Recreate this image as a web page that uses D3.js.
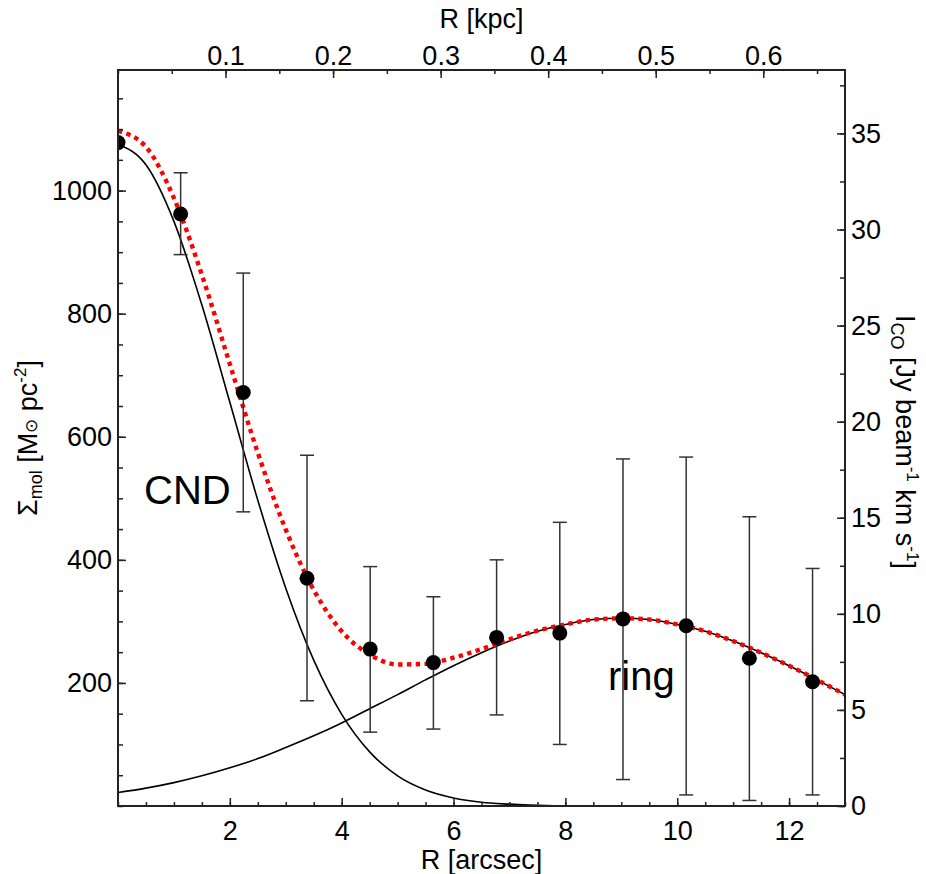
<!DOCTYPE html>
<html>
<head>
<meta charset="utf-8">
<script src="https://cdn.jsdelivr.net/npm/d3@7"></script>
<style>
  body { margin: 0; background: #fff; }
  text { font-family: "Liberation Sans", Arial, Helvetica, sans-serif; fill: #000; }
</style>
</head>
<body>
<svg id="chart" width="926" height="874"></svg>
<script>
// measured radial profile (R in arcsec, surface density in Msun/pc^2)
const radii  = [0, 1.12, 2.24, 3.38, 4.51, 5.64, 6.77, 7.90, 9.03, 10.16, 11.29, 12.42];
const sigma  = [1078, 962, 672, 370, 255, 233, 274, 281, 304, 293, 240, 202];
const errHi  = [null, 1029, 866, 570, 389, 340, 400, 461, 564, 567, 470, 386];
const errLo  = [null, 896, 478, 171, 120, 125, 148, 100, 43, 18, 9, 18];

// fitted components
const fitR     = [0, 0.5, 1, 1.5, 2, 2.5, 3, 3.5, 4, 4.5, 5, 5.5, 6, 6.5, 7, 7.5, 8, 8.5, 9, 9.5, 10, 10.5, 11, 11.5, 12, 12.5, 13];
const cndFit   = [1075, 1042, 950, 814, 656, 497, 354, 237, 149, 88, 49, 26, 13, 6, 3, 1, 0, 0, 0, 0, 0, 0, 0, 0, 0, 0, 0];
const ringFit  = [22, 29, 38, 49, 62, 77, 95, 114, 135, 158, 181, 205, 228, 249, 268, 284, 295, 303, 305, 303, 295, 284, 268, 249, 228, 205, 181];
const totalFit = [1097, 1071, 988, 863, 718, 574, 449, 351, 284, 246, 230, 231, 241, 255, 271, 285, 295, 303, 305, 303, 295, 284, 268, 249, 228, 205, 181];

// tick labels
const bottomTicks = [2, 4, 6, 8, 10, 12];
const topTicks    = [0.1, 0.2, 0.3, 0.4, 0.5, 0.6];
const leftTicks   = [200, 400, 600, 800, 1000];
const rightTicks  = [0, 5, 10, 15, 20, 25, 30, 35];

const kpcPerArcsec = 0.052;

const svg = d3.select("#chart");
const L = 118, R = 845, T = 70, B = 806;

const x    = d3.scaleLinear().domain([0, 13]).range([L, R]);
const xTop = d3.scaleLinear().domain([0, 13 * kpcPerArcsec]).range([L, R]);
const y    = d3.scaleLinear().domain([0, 1196]).range([B, T]);
const yR   = d3.scaleLinear().domain([0, 38.3]).range([B, T]);

// ---- curves
const line = (vals) => d3.line()
  .x((d, i) => x(fitR[i]))
  .y(d => y(d))
  .curve(d3.curveMonotoneX)(vals);

const plot = svg.append("g");
plot.append("defs").append("clipPath").attr("id", "clip")
  .append("rect").attr("x", L).attr("y", T).attr("width", R - L).attr("height", B - T);

const curves = plot.append("g").attr("clip-path", "url(#clip)");
curves.append("path").attr("d", line(cndFit))
  .attr("fill", "none").attr("stroke", "#000").attr("stroke-width", 1.6);
curves.append("path").attr("d", line(ringFit))
  .attr("fill", "none").attr("stroke", "#000").attr("stroke-width", 1.6);
curves.append("path").attr("d", line(totalFit))
  .attr("fill", "none").attr("stroke", "#ff0000").attr("stroke-width", 4.4)
  .attr("stroke-dasharray", "4.4,4.4");

// ---- error bars
const pts = radii.map((r, i) => ({ r, s: sigma[i], hi: errHi[i], lo: errLo[i] }));
const eb = plot.append("g").attr("stroke", "#333").attr("stroke-width", 1.5);
pts.filter(d => d.hi !== null).forEach(d => {
  eb.append("line").attr("x1", x(d.r)).attr("x2", x(d.r)).attr("y1", y(d.lo)).attr("y2", y(d.hi));
  eb.append("line").attr("x1", x(d.r) - 7).attr("x2", x(d.r) + 7).attr("y1", y(d.hi)).attr("y2", y(d.hi));
  eb.append("line").attr("x1", x(d.r) - 7).attr("x2", x(d.r) + 7).attr("y1", y(d.lo)).attr("y2", y(d.lo));
});

// ---- data points
plot.append("g").attr("clip-path", "url(#clip)")
  .selectAll("circle").data(pts).join("circle")
  .attr("cx", d => x(d.r)).attr("cy", d => y(d.s)).attr("r", 7.5).attr("fill", "#000");

// ---- axes
function styleAxis(g) {
  g.select(".domain").remove();
  g.selectAll(".tick line").attr("stroke", "#222").attr("stroke-width", 1.5);
  g.selectAll("text").attr("font-size", 27).attr("font-family", "Liberation Sans, Arial, sans-serif").attr("fill", "#000");
}

// bottom
svg.append("g").attr("transform", `translate(0,${B})`)
  .call(d3.axisBottom(x).tickValues(d3.range(0, 13.01, 0.5)).tickSize(-4).tickFormat(""))
  .call(styleAxis);
svg.append("g").attr("transform", `translate(0,${B})`)
  .call(d3.axisBottom(x).tickValues(bottomTicks).tickSize(-8).tickPadding(15).tickFormat(d3.format("d")))
  .call(styleAxis);

// top
svg.append("g").attr("transform", `translate(0,${T})`)
  .call(d3.axisTop(xTop).tickValues(d3.range(0, 0.68, 0.05)).tickSize(-4).tickFormat(""))
  .call(styleAxis);
svg.append("g").attr("transform", `translate(0,${T})`)
  .call(d3.axisTop(xTop).tickValues(topTicks).tickSize(-8).tickPadding(5).tickFormat(d3.format(".1f")))
  .call(styleAxis);

// left
svg.append("g").attr("transform", `translate(${L},0)`)
  .call(d3.axisLeft(y).tickValues(d3.range(0, 1196, 50)).tickSize(-5).tickFormat(""))
  .call(styleAxis);
svg.append("g").attr("transform", `translate(${L},0)`)
  .call(d3.axisLeft(y).tickValues(leftTicks).tickSize(-8).tickPadding(6).tickFormat(d3.format("d")))
  .call(styleAxis);

// right
svg.append("g").attr("transform", `translate(${R},0)`)
  .call(d3.axisRight(yR).tickValues(d3.range(0, 38.3, 2.5)).tickSize(-5).tickFormat(""))
  .call(styleAxis);
svg.append("g").attr("transform", `translate(${R},0)`)
  .call(d3.axisRight(yR).tickValues(rightTicks).tickSize(-8).tickPadding(6).tickFormat(d3.format("d")))
  .call(styleAxis);

// frame
svg.append("rect").attr("x", L).attr("y", T).attr("width", R - L).attr("height", B - T)
  .attr("fill", "none").attr("stroke", "#222").attr("stroke-width", 2);

// ---- axis titles
svg.append("text").attr("x", (L + R) / 2).attr("y", 869).attr("text-anchor", "middle")
  .attr("font-size", 27).text("R [arcsec]");
svg.append("text").attr("x", (L + R) / 2).attr("y", 28).attr("text-anchor", "middle")
  .attr("font-size", 27).text("R [kpc]");

const lt = svg.append("text").attr("text-anchor", "middle")
  .attr("transform", `translate(37,${(T + B) / 2}) rotate(-90)`).attr("font-size", 27);
lt.append("tspan").text("Σ");
lt.append("tspan").attr("font-size", 18).attr("dy", 5).text("mol");
lt.append("tspan").attr("dy", -5).text(" [M");
lt.append("tspan").attr("font-size", 17).text("⊙");
lt.append("tspan").text(" pc");
lt.append("tspan").attr("font-size", 17).attr("dy", -11).text("-2");
lt.append("tspan").attr("dy", 11).text("]");

const rt = svg.append("text").attr("text-anchor", "middle")
  .attr("transform", `translate(896,${(T + B) / 2 + 4}) rotate(90)`).attr("font-size", 27);
rt.append("tspan").text("I");
rt.append("tspan").attr("font-size", 18).attr("dy", 5).text("CO");
rt.append("tspan").attr("dy", -5).text(" [Jy beam");
rt.append("tspan").attr("font-size", 17).attr("dy", -11).text("-1");
rt.append("tspan").attr("dy", 11).text(" km s");
rt.append("tspan").attr("font-size", 17).attr("dy", -11).text("-1");
rt.append("tspan").attr("dy", 11).text("]");

// ---- component labels
svg.append("text").attr("x", 144).attr("y", 504).attr("font-size", 40).text("CND");
svg.append("text").attr("x", 608).attr("y", 690).attr("font-size", 40).text("ring");
</script>
</body>
</html>
